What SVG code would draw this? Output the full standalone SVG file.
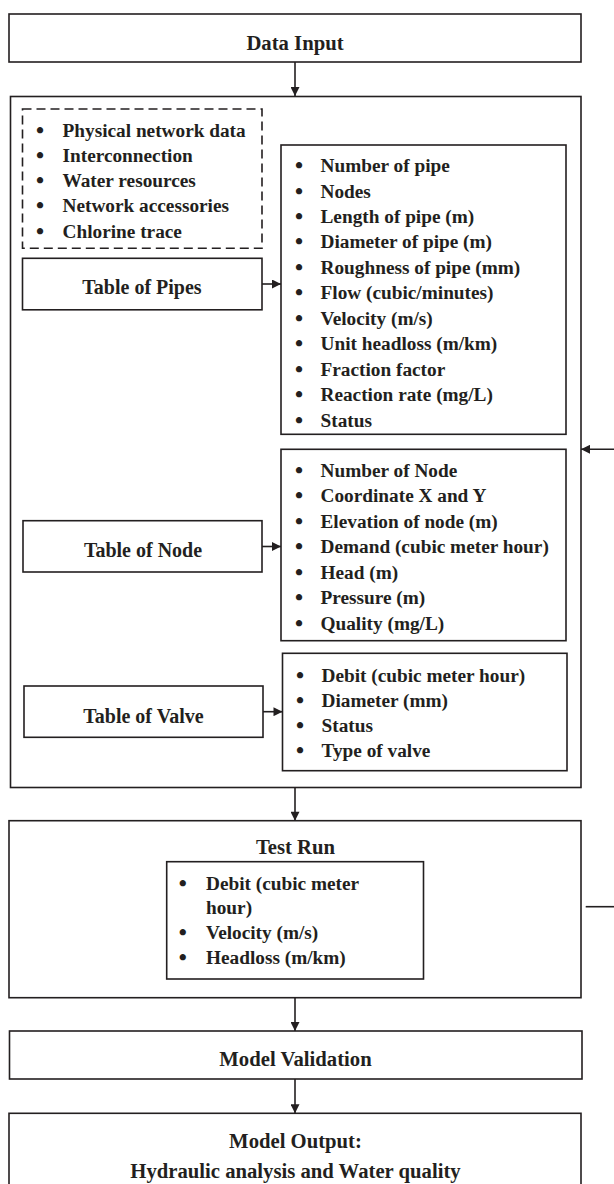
<svg xmlns="http://www.w3.org/2000/svg" width="614" height="1184" viewBox="0 0 614 1184">
<style>
  .box{fill:#fff;stroke:#231f20;stroke-width:1.6}
  .dash{fill:none;stroke:#231f20;stroke-width:1.6;stroke-dasharray:9 5}
  .ln{fill:none;stroke:#231f20;stroke-width:1.6}
  text{font-family:"Liberation Serif","Times New Roman",serif;font-weight:bold;fill:#231f20}
  .t{font-size:20.7px;text-anchor:middle}
  .tb{font-size:20px;text-anchor:middle}
  .li{font-size:19.3px}
  .bu{font-size:23px;text-anchor:middle}
</style>
<defs>
  <marker id="ah" viewBox="0 0 10 10" refX="10" refY="5" markerWidth="10" markerHeight="9" markerUnits="userSpaceOnUse" orient="auto">
    <path d="M0,0 L10,5 L0,10 z" fill="#231f20"/>
  </marker>
</defs>
<rect width="614" height="1184" fill="#fff"/>

<g id="data-input">
  <rect class="box" x="9" y="14" width="572" height="48"/>
  <text class="t" x="295" y="50">Data Input</text>
</g>

<g id="main-box">
  <rect class="box" x="10.5" y="96.5" width="570.5" height="691"/>
</g>

<g id="input-list">
  <rect class="dash" x="22.5" y="109" width="239.5" height="139.3"/>
  <text class="bu" x="40" y="137.5">•</text><text class="li" x="62.5" y="136.5">Physical network data</text>
  <text class="bu" x="40" y="162.8">•</text><text class="li" x="62.5" y="161.8">Interconnection</text>
  <text class="bu" x="40" y="188">•</text><text class="li" x="62.5" y="187">Water resources</text>
  <text class="bu" x="40" y="213.3">•</text><text class="li" x="62.5" y="212.3">Network accessories</text>
  <text class="bu" x="40" y="238.5">•</text><text class="li" x="62.5" y="237.5">Chlorine trace</text>
</g>

<g id="table-pipes">
  <rect class="box" x="22.5" y="258.3" width="239.5" height="51.5"/>
  <text class="tb" x="142" y="294">Table of Pipes</text>
</g>

<g id="pipes-list">
  <rect class="box" x="281" y="145" width="285" height="289.3"/>
  <text class="bu" x="299" y="173">•</text><text class="li" x="320.5" y="172">Number of pipe</text>
  <text class="bu" x="299" y="198.5">•</text><text class="li" x="320.5" y="197.5">Nodes</text>
  <text class="bu" x="299" y="223.9">•</text><text class="li" x="320.5" y="222.9">Length of pipe (m)</text>
  <text class="bu" x="299" y="249.4">•</text><text class="li" x="320.5" y="248.4">Diameter of pipe (m)</text>
  <text class="bu" x="299" y="274.8">•</text><text class="li" x="320.5" y="273.8">Roughness of pipe (mm)</text>
  <text class="bu" x="299" y="300.3">•</text><text class="li" x="320.5" y="299.3">Flow (cubic/minutes)</text>
  <text class="bu" x="299" y="325.7">•</text><text class="li" x="320.5" y="324.7">Velocity (m/s)</text>
  <text class="bu" x="299" y="351.2">•</text><text class="li" x="320.5" y="350.2">Unit headloss (m/km)</text>
  <text class="bu" x="299" y="376.6">•</text><text class="li" x="320.5" y="375.6">Fraction factor</text>
  <text class="bu" x="299" y="402.1">•</text><text class="li" x="320.5" y="401.1">Reaction rate (mg/L)</text>
  <text class="bu" x="299" y="427.5">•</text><text class="li" x="320.5" y="426.5">Status</text>
</g>

<g id="table-node">
  <rect class="box" x="23" y="520.7" width="239" height="51.3"/>
  <text class="tb" x="143" y="557">Table of Node</text>
</g>

<g id="node-list">
  <rect class="box" x="281" y="449.3" width="285" height="191.4"/>
  <text class="bu" x="299" y="477.7">•</text><text class="li" x="320.5" y="476.7">Number of Node</text>
  <text class="bu" x="299" y="503.2">•</text><text class="li" x="320.5" y="502.2">Coordinate X and Y</text>
  <text class="bu" x="299" y="528.8">•</text><text class="li" x="320.5" y="527.8">Elevation of node (m)</text>
  <text class="bu" x="299" y="554.3">•</text><text class="li" x="320.5" y="553.3">Demand (cubic meter hour)</text>
  <text class="bu" x="299" y="579.9">•</text><text class="li" x="320.5" y="578.9">Head (m)</text>
  <text class="bu" x="299" y="605.4">•</text><text class="li" x="320.5" y="604.4">Pressure (m)</text>
  <text class="bu" x="299" y="631">•</text><text class="li" x="320.5" y="630">Quality (mg/L)</text>
</g>

<g id="table-valve">
  <rect class="box" x="24" y="686" width="239" height="51.3"/>
  <text class="tb" x="143.5" y="723">Table of Valve</text>
</g>

<g id="valve-list">
  <rect class="box" x="282.5" y="653.3" width="284.5" height="117.4"/>
  <text class="bu" x="300" y="682.7">•</text><text class="li" x="321.5" y="681.7">Debit (cubic meter hour)</text>
  <text class="bu" x="300" y="707.9">•</text><text class="li" x="321.5" y="706.9">Diameter (mm)</text>
  <text class="bu" x="300" y="733.1">•</text><text class="li" x="321.5" y="732.1">Status</text>
  <text class="bu" x="300" y="758.3">•</text><text class="li" x="321.5" y="757.3">Type of valve</text>
</g>

<g id="test-run">
  <rect class="box" x="9" y="820.7" width="572" height="177"/>
  <text class="t" x="295.5" y="854">Test Run</text>
  <rect class="box" x="166.7" y="861.7" width="256.8" height="117.3"/>
  <text class="bu" x="182.7" y="891">•</text><text class="li" x="206" y="890">Debit (cubic meter</text>
  <text class="li" x="206" y="914.3">hour)</text>
  <text class="bu" x="182.7" y="940">•</text><text class="li" x="206" y="939">Velocity (m/s)</text>
  <text class="bu" x="182.7" y="965.4">•</text><text class="li" x="206" y="964.4">Headloss (m/km)</text>
</g>

<g id="model-validation">
  <rect class="box" x="9.5" y="1031" width="572.5" height="48"/>
  <text class="t" x="295.5" y="1066">Model Validation</text>
</g>

<g id="model-output">
  <rect class="box" x="9" y="1113.3" width="572" height="100"/>
  <text class="t" x="295.5" y="1147.7">Model Output:</text>
  <text class="t" x="295.5" y="1178">Hydraulic analysis and Water quality</text>
</g>

<g id="connectors">
  <line class="ln" x1="295" y1="62" x2="295" y2="96" marker-end="url(#ah)"/>
  <line class="ln" x1="262" y1="284" x2="281" y2="284" marker-end="url(#ah)"/>
  <line class="ln" x1="262" y1="546.5" x2="281" y2="546.5" marker-end="url(#ah)"/>
  <line class="ln" x1="263" y1="711.7" x2="282.5" y2="711.7" marker-end="url(#ah)"/>
  <line class="ln" x1="614" y1="449.3" x2="581" y2="449.3" marker-end="url(#ah)"/>
  <line class="ln" x1="295" y1="787.5" x2="295" y2="820.7" marker-end="url(#ah)"/>
  <line class="ln" x1="585.7" y1="906.7" x2="614" y2="906.7"/>
  <line class="ln" x1="295" y1="997.7" x2="295" y2="1031" marker-end="url(#ah)"/>
  <line class="ln" x1="295" y1="1079" x2="295" y2="1113.3" marker-end="url(#ah)"/>
</g>
</svg>
